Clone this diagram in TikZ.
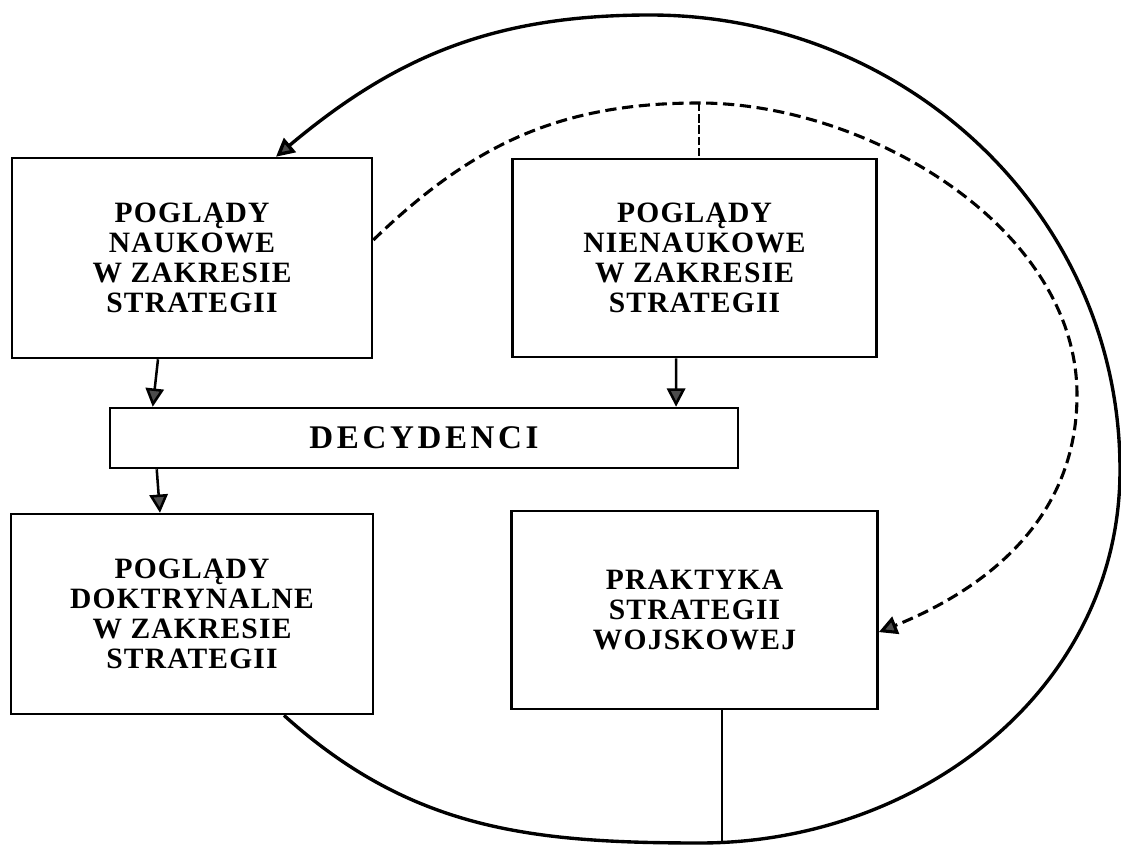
\documentclass[tikz,border=0pt]{standalone}
\usepackage{fontspec}
\setmainfont{Liberation Serif}
\usetikzlibrary{arrows.meta,positioning}

\begin{document}
\begin{tikzpicture}[x=0.025cm,y=-0.025cm,node distance=3cm,>={Triangle[length=13pt,width=13pt,fill=black!70]},
    box/.style={draw,line width=1.8pt,align=center,inner sep=0pt,
      font=\fontsize{21}{21.3}\selectfont\bfseries\addfontfeature{LetterSpace=4}},
    link/.style={->,line width=1.8pt},
    bigarc/.style={line width=2.4pt},
    dasharc/.style={line width=2.2pt,dash pattern=on 8pt off 4pt}]
    \useasboundingbox (0,0) rectangle (1121,847);
    %%%%%%%%%
    \node (nauk) [box, minimum width=9cm, minimum height=5cm] at (192,258) {POGLĄDY\\NAUKOWE\\W ZAKRESIE\\STRATEGII};
    \node (nienauk) [box, minimum width=9.1cm, minimum height=4.95cm, right of=nauk, node distance=12.56cm] {POGLĄDY\\NIENAUKOWE\\W ZAKRESIE\\STRATEGII};
    \node (decyd) [box, minimum width=15.7cm, minimum height=1.5cm, font=\fontsize{23.5}{24}\selectfont\bfseries\addfontfeature{LetterSpace=11}] at (424,438) {DECYDENCI};
    \node (doktr) [box, minimum width=9.05cm, minimum height=5cm, below of=nauk, node distance=8.9cm] {POGLĄDY\\DOKTRYNALNE\\W ZAKRESIE\\STRATEGII};
    \node (prakt) [box, minimum width=9.15cm, minimum height=4.95cm, below of=nienauk, node distance=8.8cm] {PRAKTYKA\\STRATEGII\\WOJSKOWEJ};
    %%%%%%%%%
    \coordinate (low) at (700,843);
    \coordinate (meet) at (722,842);
    \coordinate (dtop) at (699,103);
        \draw[link] ([xshift=-0.85cm]nauk.south) -- ([xshift=-6.78cm]decyd.north);
        \draw[link] ([xshift=-0.46cm]nienauk.south) -- ([xshift=6.3cm]decyd.north);
        \draw[link] ([xshift=-6.68cm]decyd.south) -- ([xshift=-0.8cm]doktr.north);
        \draw[bigarc,->] ([xshift=2.3cm]doktr.south) to[out=-42,in=180] (low) to[out=0,in=-90] (1120,470)
            to[out=90,in=0] (650,15) to[out=180,in=40] ([xshift=2.1cm]nauk.north);
        \draw[line width=1.2pt] (meet) -- (meet |- prakt.south);
        \draw[dasharc,->] ([yshift=0.45cm]nauk.east) to[out=44,in=180] (dtop) to[out=0,in=90,looseness=0.9] (1077,395)
            to[out=-90,in=22] ([yshift=-0.55cm]prakt.east);
        \draw[line width=1pt,dash pattern=on 6pt off 2pt] (dtop) -- (dtop |- nienauk.north);
\end{tikzpicture}
\end{document}
